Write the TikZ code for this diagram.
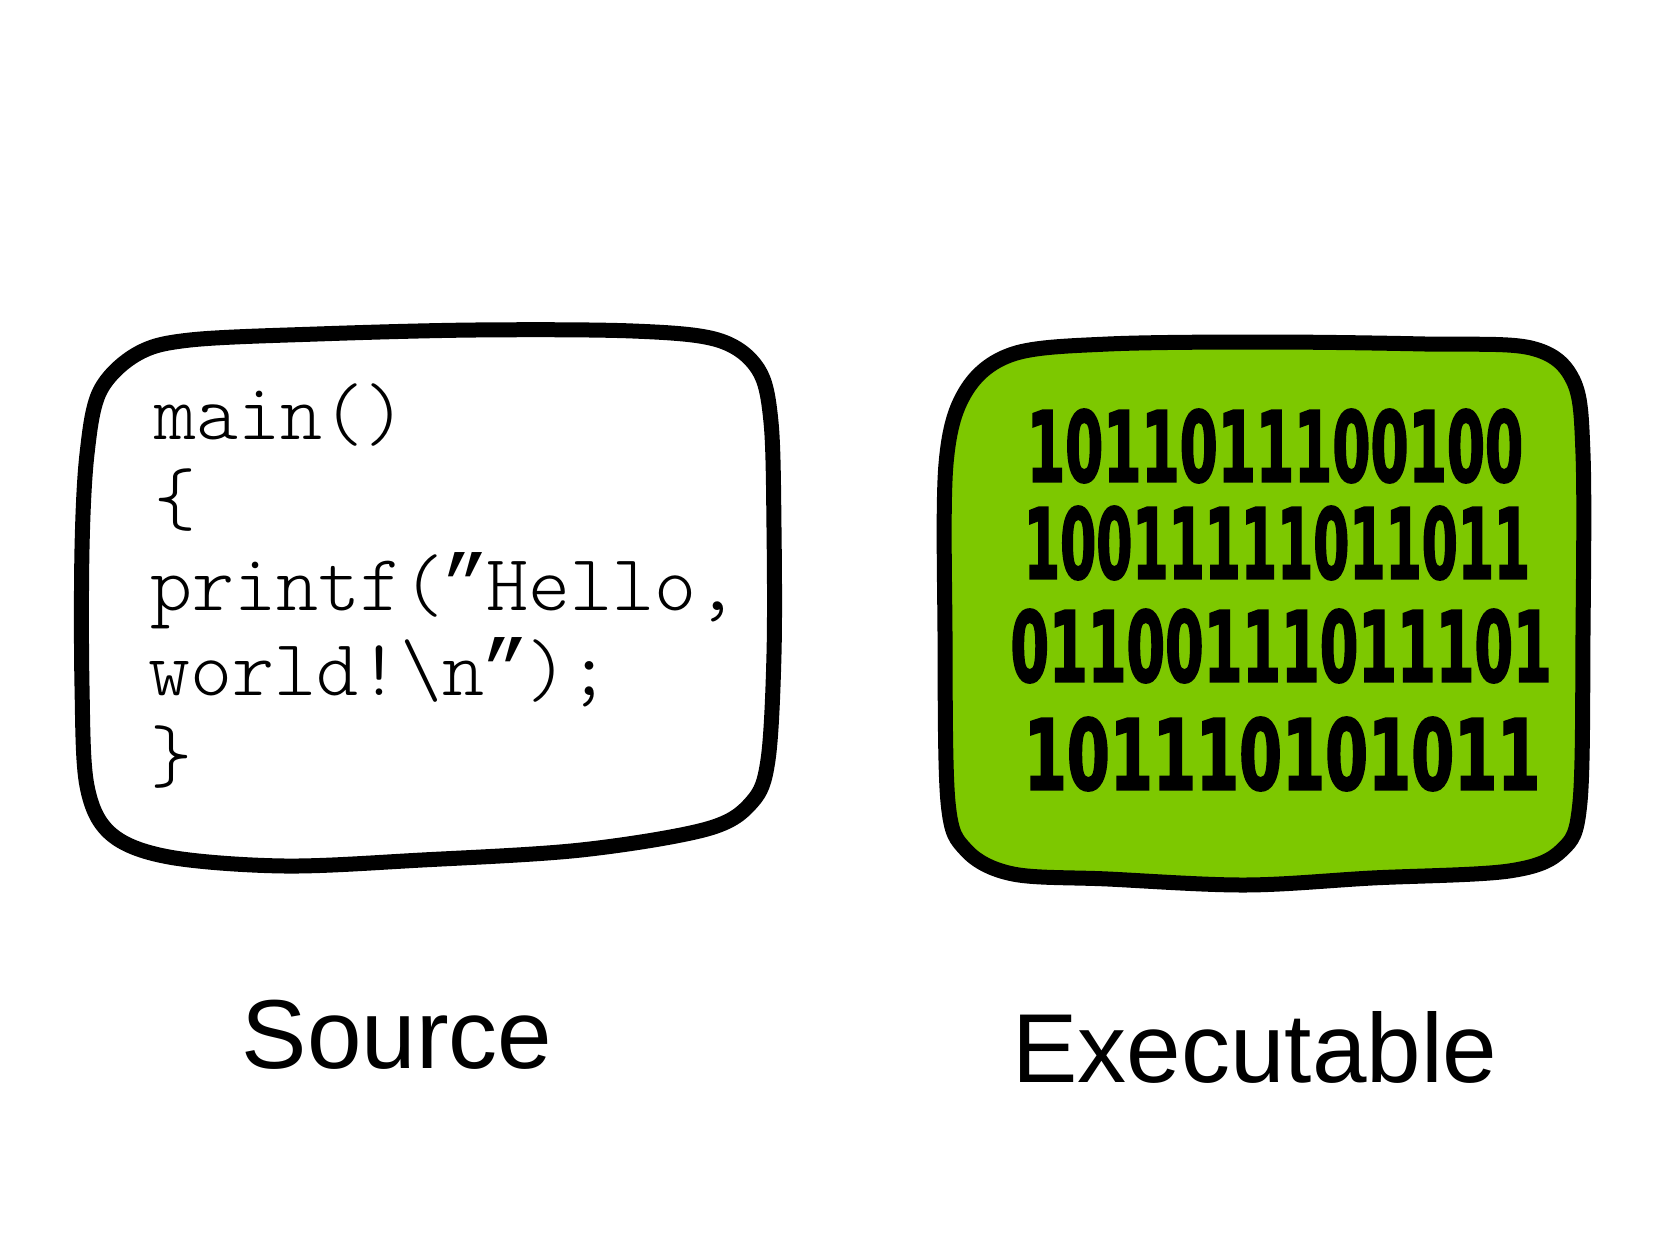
\documentclass[tikz,border=0pt]{standalone}
\usepackage{fontspec}
\usepackage{graphicx}
\setmainfont{Liberation Sans}
\newfontfamily\codefont{Latin Modern Mono Light}
\newfontfamily\quotefont{Liberation Mono}
\newfontfamily\bitfont[BoldFeatures={FakeBold=2.5}]{DejaVu Sans}
\newcommand{\slq}{\makebox[0.525em]{\quotefont ”}}
\definecolor{exegreen}{RGB}{125,200,0}
\begin{document}
\begin{tikzpicture}[x=1pt,y=-1pt,
  outline/.style={line width=15pt, line join=round},
  codeline/.style={anchor=base west, inner sep=0pt, font=\codefont\fontsize{80}{84}\selectfont},
  bits/.style={inner sep=0pt},
  caption/.style={anchor=base, inner sep=0pt, font=\fontsize{98}{110}\selectfont}]
\useasboundingbox[fill=white] (0,0) rectangle (1655,1240);

% source box
\draw[outline] plot[smooth cycle, tension=0.55] coordinates {
 (87,454) (100,391) (137,354) (190,340) (317,334) (475,330) (633,331) (718,340)
 (758,369) (771,422) (774,528) (774,654) (768,760) (752,802) (707,829) (581,850)
 (422,860) (285,866) (169,857) (111,834) (87,786) (82,686) (82,549)};

% executable box
\draw[outline, fill=exegreen] plot[smooth cycle, tension=0.55] coordinates {
 (946,464) (966,391) (1013,354) (1108,344) (1267,342) (1425,344) (1531,348)
 (1573,380) (1583,454) (1583,633) (1580,802) (1562,850) (1509,871) (1372,878)
 (1245,885) (1108,879) (1013,874) (966,850) (948,802) (945,633)};

% code
\node[codeline] (c1) at (154,439) {main()};
\node[codeline] (c2) at (154,524) {\{};
\node[codeline] (c3) at (150,610) {printf(\slq Hello,};
\node[codeline] (c4) at (148,695) {world!\textbackslash n\slq);};
\node[codeline] (c5) at (150,781) {\}};

% binary
\node[bits] (r1) at (1275,446) {\resizebox{496pt}{72pt}{\bitfont\bfseries 1011011100100}};
\node[bits] (r2) at (1277,543) {\resizebox{506pt}{72pt}{\bitfont\bfseries 10011111011011}};
\node[bits] (r3) at (1281,646) {\resizebox{541pt}{72pt}{\bitfont\bfseries 01100111011101}};
\node[bits] (r4) at (1282,754) {\resizebox{516pt}{72pt}{\bitfont\bfseries 101110101011}};

% captions
\node[caption] (src) at (397,1068) {Source};
\node[caption] (exe) at (1255,1082) {Executable};
\end{tikzpicture}
\end{document}
